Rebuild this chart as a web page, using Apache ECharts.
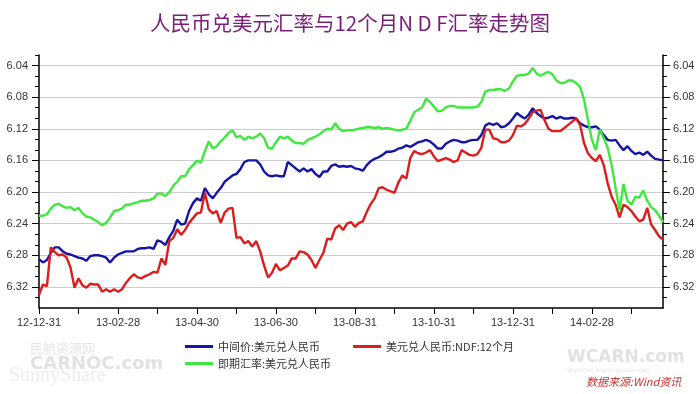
<!DOCTYPE html>
<html><head><meta charset="utf-8">
<script src="https://cdn.jsdelivr.net/npm/echarts@6/dist/echarts.min.js"></script>
<style>html,body{margin:0;padding:0;background:#fff}#c{width:700px;height:394px}</style>
</head><body><div id="c"></div>
<script>
// Month-end tick labels (one tick every 10 points, label every 2 ticks)
const monthEnds = ['12-12-31','13-01-31','13-02-28','13-03-31','13-04-30','13-05-31','13-06-30','13-07-31','13-08-31','13-09-30','13-10-31','13-11-30','13-12-31','14-01-31','14-02-28','14-03-31'];
const pointsPerMonth = 10;
const majorTicks = [6.04, 6.08, 6.12, 6.16, 6.20, 6.24, 6.28, 6.32];
const seriesNames = ['中间价:美元兑人民币', '美元兑人民币:NDF:12个月', '即期汇率:美元兑人民币'];

const blue = [6.285,6.289,6.286,6.277,6.270,6.270,6.275,6.278,6.279,6.281,
6.283,6.284,6.287,6.281,6.280,6.280,6.281,6.283,6.289,6.283,
6.279,6.277,6.275,6.275,6.275,6.272,6.271,6.271,6.270,6.272,
6.261,6.263,6.267,6.257,6.249,6.235,6.241,6.240,6.224,6.214,
6.208,6.211,6.195,6.203,6.208,6.201,6.195,6.187,6.183,6.179,
6.177,6.171,6.162,6.160,6.160,6.160,6.165,6.174,6.179,6.180,
6.179,6.180,6.180,6.162,6.166,6.170,6.174,6.170,6.174,6.171,
6.177,6.181,6.174,6.174,6.167,6.165,6.168,6.167,6.168,6.167,
6.170,6.171,6.173,6.166,6.161,6.158,6.156,6.153,6.149,6.149,
6.148,6.145,6.144,6.141,6.143,6.140,6.137,6.136,6.134,6.136,
6.140,6.145,6.145,6.139,6.136,6.134,6.135,6.137,6.137,6.135,
6.134,6.134,6.128,6.116,6.113,6.115,6.113,6.118,6.117,6.113,
6.107,6.100,6.104,6.107,6.102,6.094,6.100,6.104,6.107,6.106,
6.104,6.107,6.105,6.107,6.107,6.106,6.107,6.113,6.116,6.118,
6.118,6.117,6.121,6.128,6.134,6.135,6.134,6.141,6.147,6.142,
6.148,6.152,6.150,6.153,6.149,6.154,6.158,6.159,6.160];

const red = [6.330,6.317,6.319,6.270,6.276,6.280,6.279,6.283,6.296,6.321,
6.309,6.318,6.321,6.316,6.317,6.317,6.326,6.323,6.326,6.323,
6.326,6.323,6.315,6.309,6.304,6.308,6.309,6.306,6.304,6.301,
6.302,6.284,6.292,6.262,6.258,6.247,6.254,6.248,6.239,6.233,
6.227,6.226,6.201,6.222,6.227,6.224,6.239,6.226,6.221,6.220,
6.258,6.257,6.265,6.262,6.269,6.262,6.275,6.293,6.308,6.302,
6.291,6.299,6.296,6.293,6.284,6.284,6.275,6.276,6.279,6.286,
6.296,6.286,6.277,6.259,6.260,6.246,6.242,6.248,6.240,6.238,
6.244,6.239,6.237,6.225,6.215,6.208,6.195,6.194,6.197,6.199,
6.201,6.188,6.179,6.183,6.157,6.148,6.151,6.152,6.150,6.147,
6.155,6.161,6.159,6.157,6.159,6.162,6.160,6.147,6.150,6.153,
6.154,6.152,6.144,6.121,6.121,6.132,6.133,6.137,6.137,6.135,
6.128,6.116,6.117,6.114,6.107,6.099,6.097,6.096,6.109,6.120,
6.123,6.123,6.123,6.119,6.115,6.111,6.107,6.115,6.138,6.151,
6.157,6.161,6.153,6.166,6.189,6.206,6.216,6.232,6.216,6.219,
6.224,6.231,6.237,6.235,6.220,6.241,6.248,6.256,6.260];

const green = [6.230,6.230,6.228,6.221,6.216,6.215,6.218,6.220,6.219,6.223,
6.220,6.227,6.231,6.232,6.235,6.238,6.242,6.239,6.232,6.224,
6.223,6.221,6.216,6.216,6.214,6.213,6.211,6.211,6.210,6.208,
6.202,6.202,6.205,6.200,6.192,6.187,6.180,6.180,6.171,6.166,
6.160,6.163,6.148,6.136,6.145,6.142,6.136,6.131,6.125,6.122,
6.131,6.129,6.134,6.130,6.132,6.130,6.126,6.132,6.144,6.145,
6.137,6.130,6.132,6.130,6.135,6.138,6.138,6.139,6.134,6.132,
6.130,6.127,6.123,6.120,6.121,6.113,6.120,6.123,6.122,6.122,
6.121,6.120,6.119,6.118,6.118,6.119,6.118,6.120,6.119,6.120,
6.121,6.122,6.121,6.120,6.110,6.099,6.096,6.093,6.082,6.086,
6.092,6.098,6.097,6.093,6.091,6.091,6.093,6.093,6.093,6.093,
6.093,6.092,6.086,6.073,6.071,6.071,6.070,6.070,6.072,6.069,
6.060,6.053,6.052,6.052,6.050,6.043,6.050,6.053,6.050,6.048,
6.051,6.059,6.062,6.062,6.059,6.059,6.062,6.067,6.083,6.109,
6.134,6.147,6.121,6.132,6.144,6.166,6.195,6.223,6.190,6.211,
6.216,6.206,6.207,6.198,6.211,6.219,6.223,6.230,6.238];

const categories = blue.map((_, i) => String(i));
const step = (majorTicks[1] - majorTicks[0]) / 3;
const yMin = majorTicks[0] - step;
const yMax = majorTicks[majorTicks.length - 1] + 2 * step;
const minorTicks = [];
for (let k = 0; k <= 24; k++) minorTicks.push(+(yMin + k * step).toFixed(6));

const labelFont = 'Liberation Sans, Arial, sans-serif';
function yAxisDef(pos, major) {
  return {
    type: 'value', position: pos, inverse: true, min: yMin, max: yMax,
    axisLine: { show: major, lineStyle: { color: '#000', width: 1.5 } },
    axisTick: { show: true, inside: false, length: major ? 7 : 4, customValues: major ? majorTicks : minorTicks,
      lineStyle: { color: '#000', width: 1 } },
    axisLabel: { show: major, customValues: majorTicks, formatter: v => v.toFixed(2),
      margin: pos === 'left' ? 11 : 10, fontSize: 11, color: '#333', fontFamily: labelFont },
    splitLine: { show: major && pos === 'left', lineStyle: { color: '#cccccc', width: 1 } }
  };
}

const colors = ['#1414a6', '#dd1c1c', '#3ee83e'];
const chart = echarts.init(document.getElementById('c'), null, { renderer: 'canvas' });
chart.setOption({
  animation: false,
  backgroundColor: '#fff',
  title: {
    text: '人民币兑美元汇率与12个月N D F汇率走势图', left: 'center', top: 8,
    textStyle: { fontSize: 20.5, fontWeight: 'normal', color: '#7a1e7a', fontFamily: 'Noto Sans CJK SC' }
  },
  grid: { left: 39, right: 37, top: 55, bottom: 86 },
  legend: [
    { data: [seriesNames[0], seriesNames[1]], left: 180, top: 336, icon: 'rect', itemWidth: 28, itemHeight: 3,
      itemGap: 33, selectedMode: false, textStyle: { fontSize: 11, color: '#333', fontFamily: 'Noto Sans CJK SC' } },
    { data: [seriesNames[2]], left: 180, top: 353, icon: 'rect', itemWidth: 28, itemHeight: 3,
      selectedMode: false, textStyle: { fontSize: 11, color: '#333', fontFamily: 'Noto Sans CJK SC' } }
  ],
  xAxis: {
    type: 'category', data: categories, boundaryGap: false,
    axisLine: { lineStyle: { color: '#000', width: 1.5 } },
    axisTick: { interval: i => i % pointsPerMonth === 0, length: 6, lineStyle: { color: '#000' } },
    axisLabel: { interval: i => i % (2 * pointsPerMonth) === 0, formatter: (v, i) => monthEnds[i / pointsPerMonth] || '',
      fontSize: 11, color: '#333', margin: 9, fontFamily: labelFont },
    splitLine: { show: false }
  },
  yAxis: [yAxisDef('left', true), yAxisDef('left', false), yAxisDef('right', true), yAxisDef('right', false)],
  series: [
    { name: seriesNames[0], type: 'line', data: blue, showSymbol: false, lineStyle: { width: 2.4, color: colors[0] }, itemStyle: { color: colors[0] }, z: 2 },
    { name: seriesNames[1], type: 'line', data: red, showSymbol: false, lineStyle: { width: 2.4, color: colors[1] }, itemStyle: { color: colors[1] }, z: 3 },
    { name: seriesNames[2], type: 'line', data: green, showSymbol: false, lineStyle: { width: 2.4, color: colors[2] }, itemStyle: { color: colors[2] }, z: 4 }
  ],
  graphic: [
    { type: 'text', left: 30, top: 342, style: { text: '民航资源网', fontSize: 13, fill: '#e4e4e4', fontFamily: 'Noto Sans CJK SC' } },
    { type: 'text', left: 30, top: 355, style: { text: 'CARNOC.com', fontSize: 18, fontWeight: 'bold', fill: '#e2e2e2', fontFamily: 'DejaVu Sans' } },
    { type: 'text', left: 9, top: 366, style: { text: 'SunnyShare', fontSize: 20, fill: '#e8eef6', fontFamily: 'Liberation Serif' } },
    { type: 'text', left: 567, top: 349, style: { text: 'WCARN.com', fontSize: 17, fontWeight: 'bold', fill: '#e2e2e2', fontFamily: 'DejaVu Sans' } },
    { type: 'text', left: 567, top: 368, style: { text: 'World Civil Aviation Resource Net', fontSize: 5, fill: '#e2e2e2', fontFamily: 'DejaVu Sans' } },
    { type: 'text', left: 586, top: 376, style: { text: '数据来源:Wind资讯', fontSize: 11, fontStyle: 'italic', fill: '#c83232', fontFamily: 'Noto Sans CJK SC' } }
  ]
});
</script>
</body></html>
